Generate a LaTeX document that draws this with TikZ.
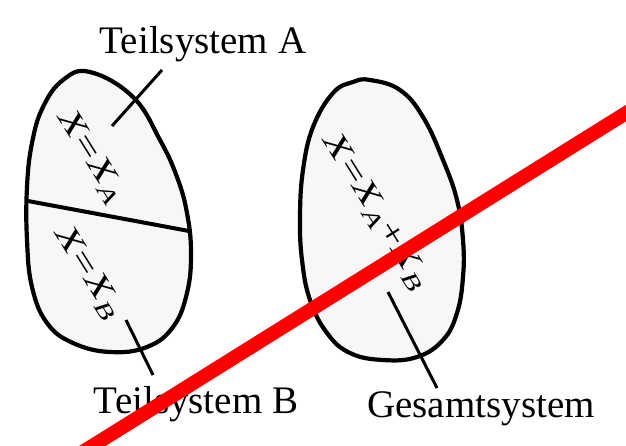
\documentclass[tikz,border=0pt]{standalone}
\usepackage{fontspec}
\setmainfont{Liberation Serif}
\newcommand{\stretchtxt}[1]{\scalebox{1.4}[1]{#1}}
\begin{document}
\begin{tikzpicture}[x=1pt,y=-1pt,
  blob/.style={draw=black,line width=4.2pt,fill=gray!6},
  leader/.style={draw=black,line width=3pt},
  lbl/.style={font=\fontsize{39}{41}\selectfont,anchor=base,inner sep=0pt},
  eq/.style={font=\fontsize{32}{32}\selectfont,rotate=-58,inner sep=0pt},
  cross/.style={draw=red,line width=14pt}]
\useasboundingbox (0,0) rectangle (626,445);
\clip (0,0) rectangle (626,445);
% left blob
\path[blob] plot[smooth cycle,tension=0.7] coordinates {
 (90,72) (133,97) (160,140) (177,177) (187,213) (191,253) (187,293) (173,327)
 (147,347) (110,352) (73,343) (47,323) (32,287) (27,240) (27,187) (32,143)
 (43,107) (63,80)};
\coordinate (dl) at (28,201);
\coordinate (dr) at (189,231);
\draw[line width=4pt] (dl) -- (dr);
% right blob
\path[blob] plot[smooth cycle,tension=0.7] coordinates {
 (370,80) (400,90) (423,117) (443,160) (457,200) (463,240) (463,277) (457,313)
 (443,340) (417,357) (383,360) (350,353) (327,333) (310,300) (302,260) (300,217)
 (303,170) (313,127) (333,93) (353,82)};
% equations
\node[eq] (ea) at (91,157) {\stretchtxt{\textit{X}=\textit{X}\textsubscript{\textit{A}}}};
\node[eq] (eb) at (88,273) {\stretchtxt{\textit{X}=\textit{X}\textsubscript{\textit{B}}}};
\node[eq] (eg) at (376,212) {\stretchtxt{\textit{X}=\textit{X}\textsubscript{\textit{A}}+\textit{X}\textsubscript{\textit{B}}}};
% labels
\node[lbl] (ta) at (203,53) {Teilsystem A};
\node[lbl] (tb) at (196,413) {Teilsystem B};
\node[lbl] (tg) at (481,417) {Gesamtsystem};
% leaders
\coordinate (a1) at (162,70);
\coordinate (a2) at (112,126);
\coordinate (b1) at (126,320);
\coordinate (b2) at (153,375);
\coordinate (g1) at (388,292);
\coordinate (g2) at (437,388);
\draw[leader] (a1) -- (a2);
\draw[leader] (b1) -- (b2);
\draw[leader] (g1) -- (g2);
% red cross line
\coordinate (r1) at (41,478);
\coordinate (r2) at (679,80);
\draw[cross] (r1) -- (r2);
\end{tikzpicture}
\end{document}
